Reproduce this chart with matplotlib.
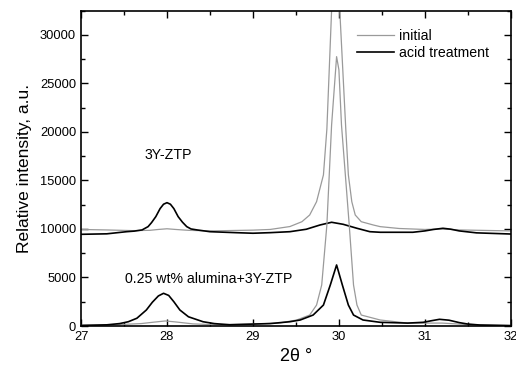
import matplotlib
matplotlib.use("Agg")
from matplotlib import pyplot as plt
from matplotlib.ticker import MultipleLocator

plt.rcParams['font.family'] = ['Liberation Sans', 'DejaVu Sans']

# 3Y-ZTP, initial (grey, upper)
x_init_top = [27.0, 27.3, 27.6, 27.8, 27.9, 28.0, 28.1, 28.25, 28.5, 29.0, 29.2, 29.43,
              29.57, 29.66, 29.74, 29.82, 29.86, 29.915, 29.96, 30.01, 30.08, 30.11,
              30.15, 30.19, 30.26, 30.4, 30.48, 30.7, 31.0, 31.2, 31.4, 32.0]
y_init_top = [9950, 9900, 9830, 9860, 9950, 10020, 9950, 9860, 9800, 9880, 9950, 10250,
              10750, 11440, 12810, 15570, 20300, 32540, 42000, 32540, 20300, 15570,
              12810, 11440, 10750, 10410, 10240, 10050, 9950, 10000, 9900, 9800]

# 3Y-ZTP, acid treatment (black, upper)
x_acid_top = [27.0, 27.3, 27.53, 27.62, 27.71, 27.78, 27.82, 27.87, 27.92, 27.96, 28.0,
              28.04, 28.08, 28.13, 28.18, 28.23, 28.28, 28.35, 28.5, 28.8, 29.0, 29.2,
              29.43, 29.62, 29.78, 29.915, 30.05, 30.21, 30.36, 30.48, 30.86, 31.0,
              31.1, 31.21, 31.3, 31.4, 31.6, 32.0]
y_acid_top = [9450, 9500, 9720, 9780, 9900, 10240, 10650, 11270, 12100, 12550, 12710,
              12550, 12100, 11270, 10700, 10240, 10000, 9900, 9720, 9620, 9560, 9620,
              9720, 9970, 10410, 10690, 10480, 10070, 9720, 9660, 9660, 9800,
              9950, 10070, 9980, 9800, 9600, 9480]

# 0.25 wt% alumina+3Y-ZTP, initial (grey, lower)
x_init_low = [27.0, 27.4, 27.7, 27.85, 27.98, 28.1, 28.3, 28.5, 29.0, 29.3, 29.51, 29.66,
              29.74, 29.8, 29.86, 29.915, 29.973, 30.0, 30.03, 30.12, 30.17, 30.21,
              30.26, 30.48, 30.8, 31.2, 31.5, 32.0]
y_init_low = [100, 130, 250, 400, 520, 420, 220, 150, 200, 300, 620, 1130,
              2160, 4230, 10410, 20720, 27760, 26400, 20720, 10410, 4230, 2160,
              1130, 620, 300, 300, 150, 100]

# 0.25 wt% alumina+3Y-ZTP, acid treatment (black, lower)
x_acid_low = [27.0, 27.3, 27.45, 27.55, 27.65, 27.76, 27.83, 27.9, 27.96, 28.02, 28.08,
              28.15, 28.25, 28.42, 28.55, 28.73, 29.0, 29.2, 29.43, 29.55, 29.7, 29.82,
              29.9, 29.973, 30.04, 30.11, 30.17, 30.28, 30.48, 30.8, 30.98, 31.08,
              31.17, 31.28, 31.4, 31.5, 31.64, 32.0]
y_acid_low = [50, 120, 250, 440, 800, 1650, 2450, 3100, 3370, 3150, 2500,
              1650, 950, 440, 250, 120, 200, 250, 440, 620, 1130, 2160,
              4230, 6290, 4230, 2160, 1130, 620, 380, 300, 380, 550,
              690, 600, 350, 200, 100, 20]

grey = '#9a9a9a'

fig = plt.figure(figsize=(5.16, 3.67), dpi=100)
ax = fig.add_axes([0.157, 0.1117, 0.833, 0.8593])

ax.plot(x_init_top, y_init_top, color=grey, lw=0.9, label='initial')
ax.plot(x_acid_top, y_acid_top, color='black', lw=1.2, label='acid treatment')
ax.plot(x_init_low, y_init_low, color=grey, lw=0.9)
ax.plot(x_acid_low, y_acid_low, color='black', lw=1.2)

ax.set_xlim(27, 32)
ax.set_ylim(0, 32500)
ax.xaxis.set_major_locator(MultipleLocator(1))
ax.xaxis.set_minor_locator(MultipleLocator(0.5))
ax.yaxis.set_major_locator(MultipleLocator(5000))
ax.yaxis.set_minor_locator(MultipleLocator(2500))
ax.tick_params(which='both', direction='in', top=True, right=True, labelsize=9.3, width=1)
ax.tick_params(which='major', length=5)
ax.tick_params(which='minor', length=3)
for s in ax.spines.values():
    s.set_linewidth(1.2)

ax.set_ylabel('Relative intensity, a.u.', fontsize=12.5, labelpad=6)
ax.set_xlabel('2\u03b8 \u00b0', fontsize=13, labelpad=4)

ax.text(28.01, 17600, '3Y-ZTP', fontsize=10.2, ha='center', va='center')
ax.text(28.49, 4850, '0.25 wt% alumina+3Y-ZTP', fontsize=10.2, ha='center', va='center')

ax.legend(loc='upper left', bbox_to_anchor=(0.63, 0.96), frameon=False, fontsize=10.2,
          handlelength=2.6, handletextpad=0.3, labelspacing=0.2, borderaxespad=0)

fig.savefig('out.png', dpi=100)
